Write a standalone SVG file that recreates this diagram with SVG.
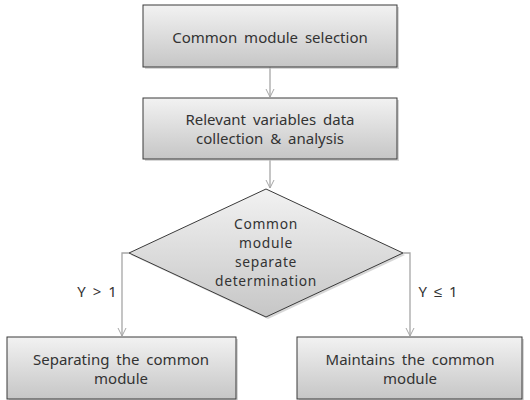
<svg xmlns="http://www.w3.org/2000/svg" width="530" height="400" viewBox="0 0 530 400">
<defs>
<linearGradient id="g" x1="0" y1="0" x2="0" y2="1">
<stop offset="0" stop-color="#f2f2f2"/>
<stop offset="1" stop-color="#c6c6c6"/>
</linearGradient>
<marker id="a" viewBox="0 0 10 10" refX="9" refY="5" markerWidth="10" markerHeight="10" markerUnits="userSpaceOnUse" orient="auto">
<path d="M1,1 L9,5 L1,9" fill="none" stroke="#a6a6a6" stroke-width="1"/>
</marker>
</defs>
<style>
.n{fill:url(#g);stroke:#3a3a3a;stroke-width:1}
.s{fill:#bdbdbd;opacity:0.6}
.t{font-family:"Noto Sans",sans-serif;font-size:15px;fill:#333;text-anchor:middle;word-spacing:3px}
.d{font-size:13.8px;letter-spacing:0.7px}
.c{fill:none;stroke:#a6a6a6;stroke-width:1.3;marker-end:url(#a)}
</style>
<g id="connectors">
<line class="c" x1="270" y1="67" x2="270" y2="97"/>
<line class="c" x1="270" y1="160" x2="270" y2="188"/>
<polyline class="c" points="129,253 122,253 122,336"/>
<polyline class="c" points="403,253 410,253 410,336"/>
<text class="t" x="97" y="297">Y &gt; 1</text>
<text class="t" x="438" y="297">Y ≤ 1</text>
</g>
<g id="n1">
<rect class="s" x="145" y="7" width="254" height="62"/>
<rect class="n" x="143" y="5" width="254" height="62"/>
<text class="t" x="270" y="43">Common module selection</text>
</g>
<g id="n2">
<rect class="s" x="145" y="100" width="254" height="61"/>
<rect class="n" x="143" y="98" width="254" height="61"/>
<text class="t" x="270" y="125">Relevant variables data</text>
<text class="t" x="270" y="144">collection &amp; analysis</text>
</g>
<g id="n3">
<polygon class="s" points="268,191 405,255 268,319 131,255"/>
<polygon class="n" points="266,189 403,253 266,317 129,253"/>
<text class="t d" x="266" y="229">Common</text>
<text class="t d" x="266" y="248">module</text>
<text class="t d" x="266" y="267">separate</text>
<text class="t d" x="266" y="286">determination</text>
</g>
<g id="n4">
<rect class="s" x="9" y="339" width="229" height="62"/>
<rect class="n" x="7" y="337" width="229" height="62"/>
<text class="t" x="121" y="365">Separating the common</text>
<text class="t" x="121" y="384">module</text>
</g>
<g id="n5">
<rect class="s" x="299" y="339" width="225" height="62"/>
<rect class="n" x="297" y="337" width="225" height="62"/>
<text class="t" x="410" y="365">Maintains the common</text>
<text class="t" x="410" y="384">module</text>
</g>
</svg>
